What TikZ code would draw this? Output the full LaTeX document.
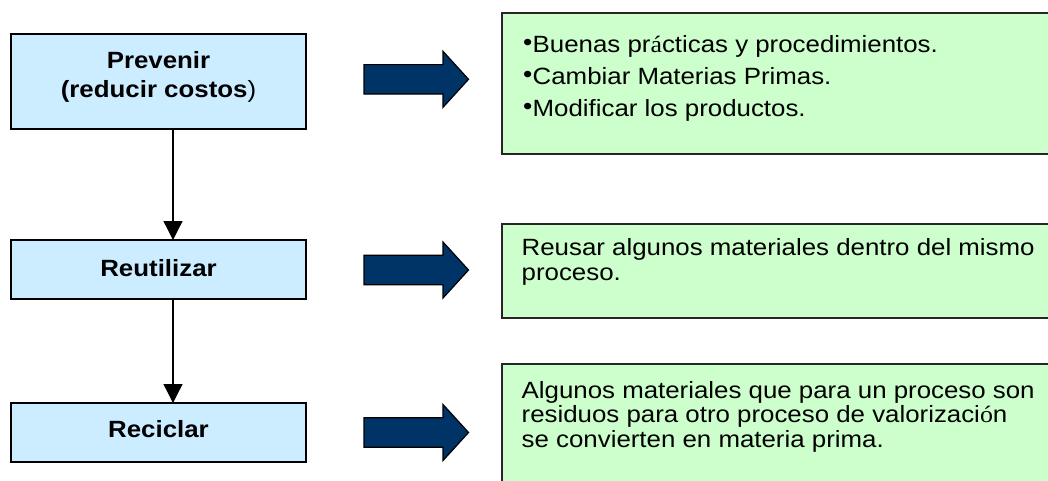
\documentclass[tikz,border=0pt]{standalone}
\usepackage{fontspec}
\setmainfont[FakeStretch=1.1]{Liberation Sans}
\newfontfamily\accfont[FakeStretch=1.1]{Liberation Serif}
\usetikzlibrary{arrows.meta}
\definecolor{boxblue}{HTML}{CCECFF}
\definecolor{boxgreen}{HTML}{CCFFCC}
\definecolor{navyfill}{HTML}{003366}
\newcommand\mybul{\makebox[9.5pt][l]{\raisebox{2pt}{\fontsize{24}{24}\selectfont •}}}
\tikzset{
 bluebox/.style={draw=black, line width=1.3pt, fill=boxblue, inner sep=0pt, outer sep=0pt, minimum width=295pt},
 greenbox/.style={draw=black!85, line width=1.3pt, fill=boxgreen, inner sep=0pt, outer sep=0pt, minimum width=620pt, anchor=north west},
 lbl/.style={font=\fontsize{23.5}{29}\selectfont\bfseries, anchor=base, inner sep=0pt},
 body/.style={anchor=base west, inner sep=0pt},
 conn/.style={line width=1.3pt, -{Triangle[width=19pt,length=19pt]}},
 barrow/.pic={\draw[fill=navyfill, draw=black, line width=1.2pt] (0,-14.7) -- (79,-14.7) -- (79,-28) -- (104.5,0) -- (79,28) -- (79,14.7) -- (0,14.7) -- cycle;}
}
\begin{document}
\begin{tikzpicture}[x=1pt,y=-1pt]
\useasboundingbox (0,0) rectangle (1048,480);
\fill[white] (0,0) rectangle (1048,480);
% left boxes
\node[bluebox, minimum height=95pt] (b1) at (158.5,81.5) {};
\node[bluebox, minimum height=59pt] (b2) at (158.5,269.5) {};
\node[bluebox, minimum height=59pt] (b3) at (158.5,432.5) {};
\node[lbl] (t1a) at (158.5,68) {Prevenir};
\node[lbl] (t1b) at (158.5,97) {(reducir costos{\mdseries)}};
\node[lbl] (t2) at (158.5,276) {Reutilizar};
\node[lbl] (t3) at (158.5,437) {Reciclar};
% connectors
\draw[conn] ([xshift=14.5pt]b1.south) -- ([xshift=14.5pt]b2.north);
\draw[conn] ([xshift=14.5pt]b2.south) -- ([xshift=14.5pt]b3.north);
% block arrows
\pic at (364,79.3) {barrow};
\pic at (364,270) {barrow};
\pic at (364,432.5) {barrow};
% right boxes
\node[greenbox, minimum height=141pt] (g1) at (502,13) {};
\node[greenbox, minimum height=94pt] (g2) at (502,224) {};
\node[greenbox, minimum height=150pt] (g3) at (502,364) {};
\node[body] (g1t) at (523,52) {\parbox[t]{500pt}{\fontsize{23.5}{32}\selectfont
 \mybul Buenas pr{\accfont á}cticas y procedimientos.\\
 \mybul Cambiar Materias Primas.\\
 \mybul Modificar los productos.}};
\node[body] (g2t) at (521.5,255) {\parbox[t]{520pt}{\fontsize{23.5}{25.5}\selectfont
 Reusar algunos materiales dentro del mismo\\
 proceso.}};
\node[body] (g3t) at (521.5,398) {\parbox[t]{520pt}{\fontsize{23.5}{24.5}\selectfont
 Algunos materiales que para un proceso son\\
 residuos para otro proceso de valorizaci{\accfont ó}n\\
 se convierten en materia prima.}};
\end{tikzpicture}
\end{document}
